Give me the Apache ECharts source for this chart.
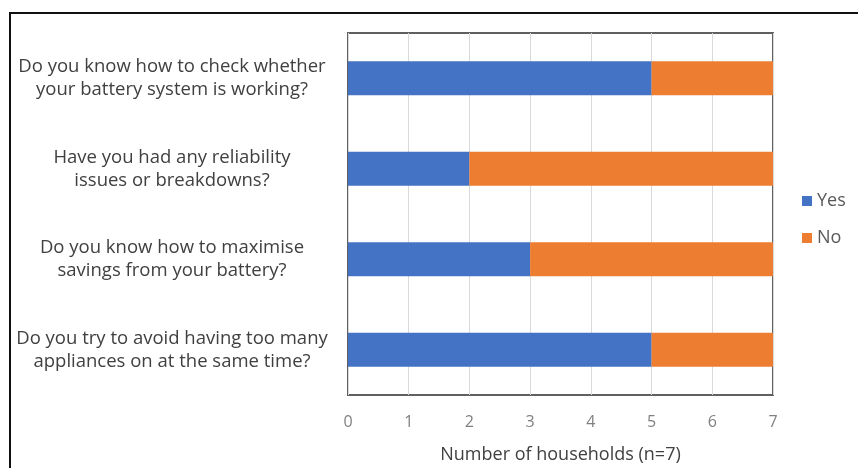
<!DOCTYPE html>
<html><head><meta charset="utf-8">
<script src="https://cdn.jsdelivr.net/npm/echarts@6/dist/echarts.min.js"></script>
<style>html,body{margin:0;padding:0;background:#fff}#c{width:858px;height:468px}</style>
</head><body><div id="c"></div>
<script>
const categories = [
  "Do you know how to check whether\nyour battery system is working?",
  "Have you had any reliability\nissues or breakdowns?",
  "Do you know how to maximise\nsavings from your battery?",
  "Do you try to avoid having too many\nappliances on at the same time?"
];
const yesValues = [5, 2, 3, 5];
const noValues = [2, 5, 4, 2];
const seriesNames = ["Yes", "No"];
const xAxisTitle = "Number of households (n=7)";

const chart = echarts.init(document.getElementById('c'), null, {renderer: 'canvas'});
const font = '"Open Sans", sans-serif';
chart.setOption({
  animation: false,
  backgroundColor: '#fff',
  textStyle: {fontFamily: font},
  graphic: [{
    type: 'rect', shape: {x: 10, y: 13, width: 900, height: 500},
    style: {fill: 'none', stroke: '#111', lineWidth: 2}, z: 100
  }],
  grid: {left: 348, right: 85, top: 33, bottom: 73, show: true, borderColor: '#606060', borderWidth: 2, backgroundColor: 'transparent', outerBoundsMode: 'none', containLabel: false},
  legend: {
    orient: 'vertical', left: 797, top: 187, itemWidth: 10, itemHeight: 10, itemGap: 19,
    icon: 'rect',
    textStyle: {fontFamily: font, fontSize: 18, color: '#595959'},
    data: seriesNames
  },
  xAxis: {
    type: 'value', min: 0, max: 7, interval: 1,
    name: xAxisTitle, nameLocation: 'middle', nameGap: 51,
    nameTextStyle: {fontFamily: font, fontSize: 18, color: '#404040'},
    axisLine: {show: false}, axisTick: {show: false},
    axisLabel: {fontFamily: font, fontSize: 16, color: '#808080', margin: 19},
    splitLine: {show: true, lineStyle: {color: '#d9d9d9', width: 1}}
  },
  yAxis: {
    type: 'category', data: categories, inverse: true,
    axisLine: {show: false}, axisTick: {show: false},
    axisLabel: {fontFamily: font, fontSize: 18.5, color: '#404040', align: 'center', margin: 176, lineHeight: 23}
  },
  series: [
    {name: seriesNames[0], type: 'bar', stack: 's', data: yesValues, barWidth: 34, itemStyle: {color: '#4472C4'}},
    {name: seriesNames[1], type: 'bar', stack: 's', data: noValues, barWidth: 34, itemStyle: {color: '#ED7D31'}}
  ]
});
</script></body></html>
